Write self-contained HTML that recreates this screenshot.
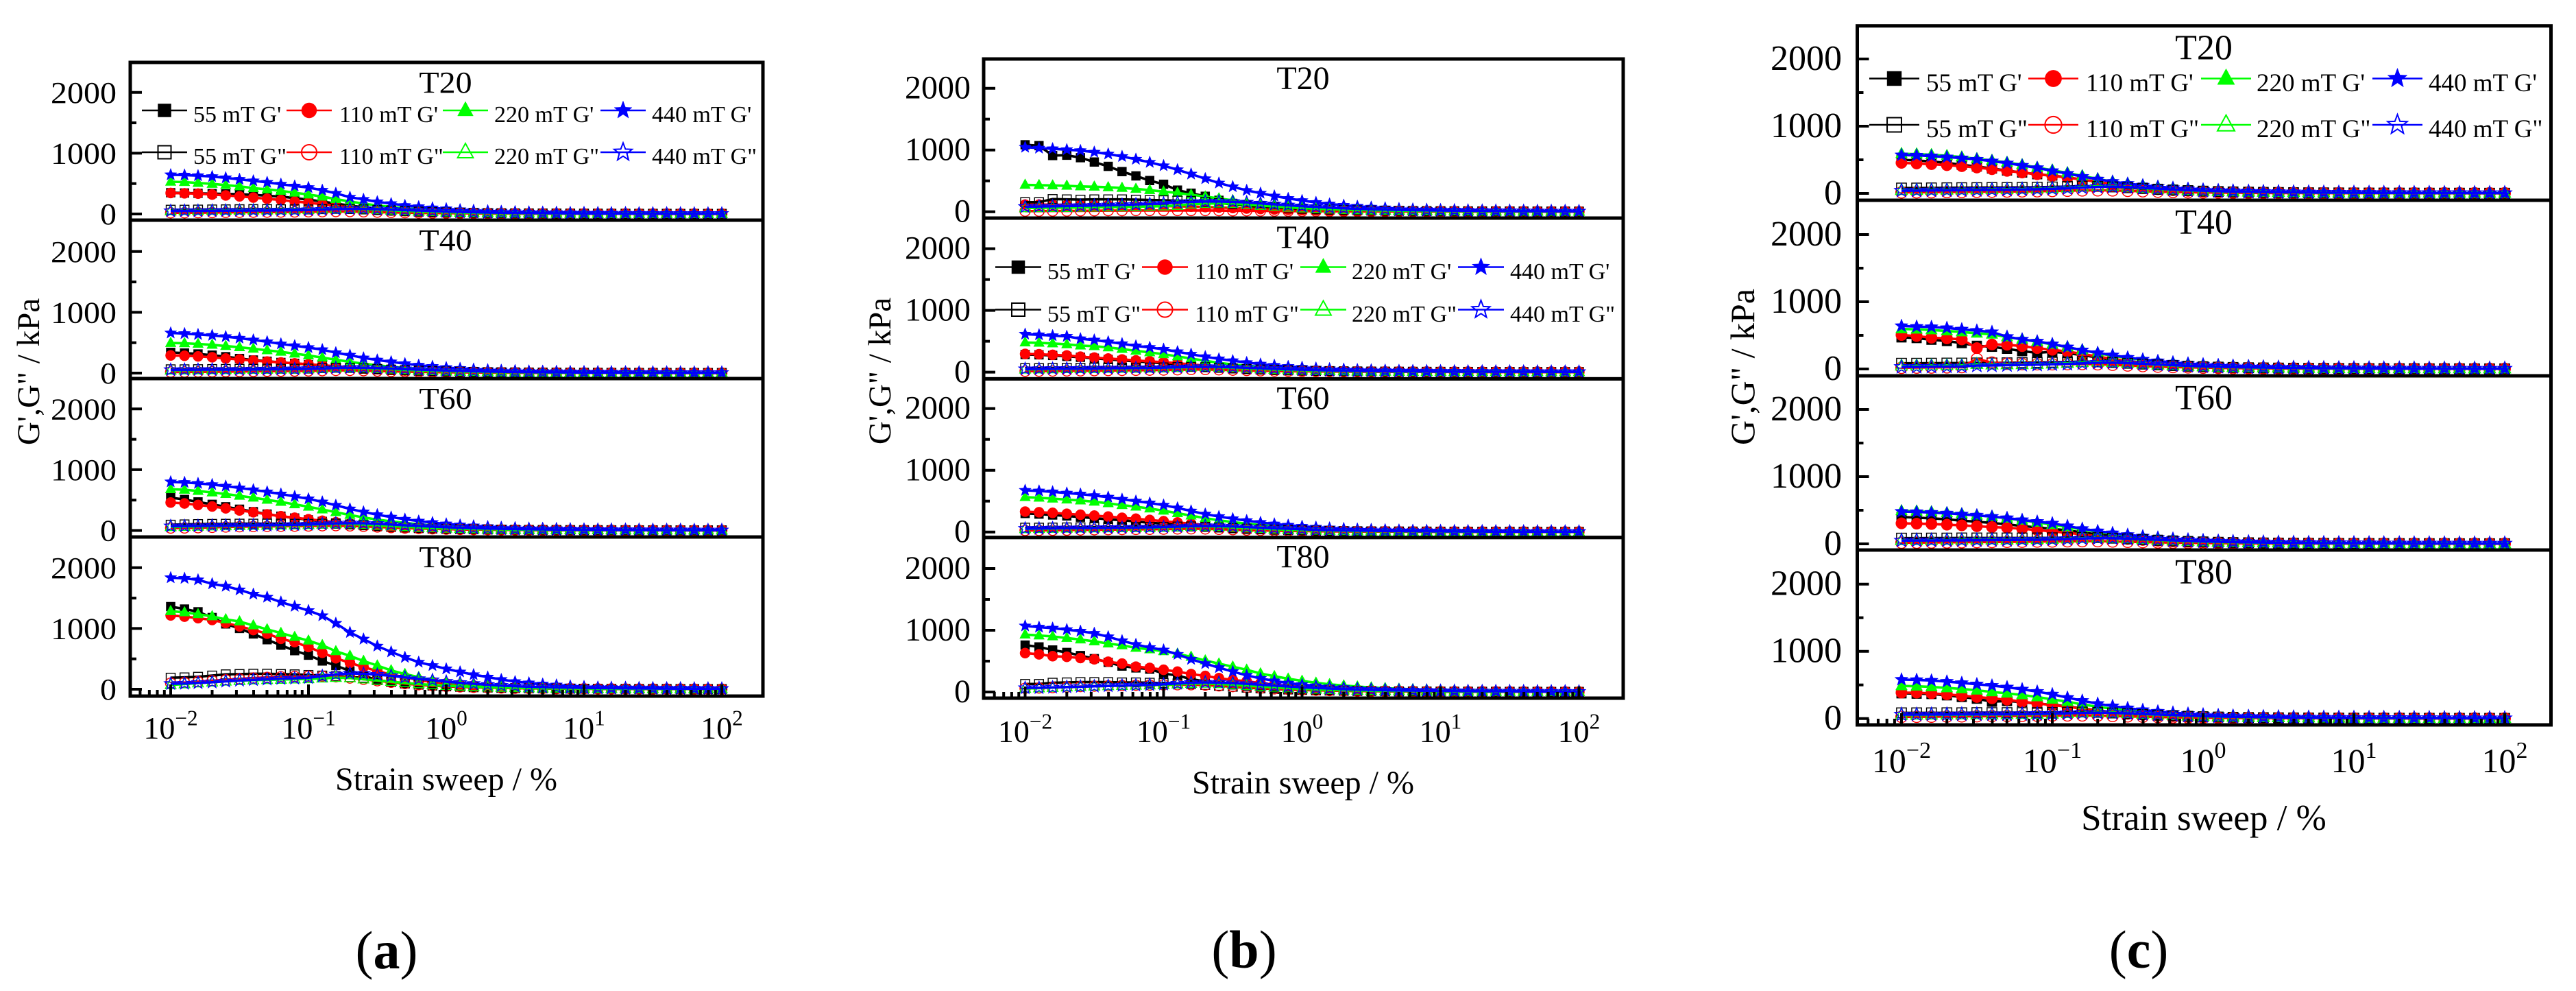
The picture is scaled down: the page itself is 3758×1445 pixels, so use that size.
<!DOCTYPE html>
<html lang="en">
<head>
<meta charset="utf-8">
<title>Strain sweep of G' and G'' at four temperatures</title>
<style>
html,body{margin:0;padding:0;background:#fff;width:3758px;height:1445px;overflow:hidden}
svg{display:block}
text{font-family:"Liberation Serif",serif;fill:#000}
</style>
</head>
<body>
<svg id="chart" xmlns="http://www.w3.org/2000/svg" width="3758" height="1445" viewBox="0 0 3758 1445"></svg>
<script>
const strains=[0.01,0.0126,0.0158,0.02,0.0251,0.0316,0.0398,0.0501,0.0631,0.0794,0.1,0.126,0.158,0.2,0.251,0.316,0.398,0.501,0.631,0.794,1,1.26,1.58,2,2.51,3.16,3.98,5.01,6.31,7.94,10,12.6,15.8,20,25.1,31.6,39.8,50.1,63.1,79.4,100];
const yTickValues=[0,1000,2000];
const yMinorValues=[500,1500];
const xTickExponents=[-2,-1,0,1,2];
const panelTitles=["T20","T40","T60","T80"];
const legendLabels=["55 mT G'","110 mT G'","220 mT G'","440 mT G'",'55 mT G"','110 mT G"','220 mT G"','440 mT G"'];
const yAxisLabel="G',G\" / kPa";
const xAxisLabel="Strain sweep / %";

/* figure a */
const a20_55G1=[350,345,340,335,330,325,315,300,285,262, 235,205,170,140,110,88,70,56,45,37, 30,25,20,17,14,12,10,9,8,7, 6,5,5,4,4,3,3,3,2,2,2];
const a20_110G1=[345,340,335,320,305,290,270,250,230,205, 185,160,135,110,90,72,58,47,38,31, 25,21,17,14,12,10,9,8,7,6, 5,5,4,4,3,3,3,2,2,2,2];
const a20_220G1=[530,525,510,495,475,455,425,405,380,350, 320,285,245,205,170,140,115,95,78,64, 52,44,37,31,26,22,19,16,14,12, 11,10,9,8,7,6,6,5,5,4,4];
const a20_440G1=[645,640,630,615,595,570,545,520,490,460, 435,390,340,275,240,200,170,140,120,100, 85,70,60,52,45,38,33,28,25,22, 20,18,16,14,13,12,11,10,9,8,8];
const a20_55G2=[70,70,72,74,76,78,80,80,78,76, 75,80,85,82,75,65,55,46,38,31, 26,22,18,15,13,11,10,9,8,7, 6,6,5,5,4,4,4,3,3,3,3];
const a20_110G2=[20,20,22,24,26,28,30,30,32,34, 36,38,40,40,36,30,26,22,18,15, 13,11,9,8,7,6,5,5,4,4, 3,3,3,3,2,2,2,2,2,2,2];
const a20_220G2=[50,52,54,56,58,60,62,62,64,66, 70,78,85,85,78,70,60,50,42,35, 29,24,20,17,14,12,11,9,8,7, 7,6,5,5,5,4,4,4,3,3,3];
const a20_440G2=[48,50,50,52,54,55,56,58,60,62, 66,72,80,85,85,80,72,64,56,48, 40,34,28,24,20,17,15,13,11,10, 9,8,7,7,6,6,5,5,4,4,4];

const a40_55G1=[340,330,315,295,270,240,215,195,175,160, 140,120,100,82,66,54,44,36,30,25, 21,18,15,13,11,9,8,7,6,5, 5,4,4,3,3,3,3,2,2,2,2];
const a40_110G1=[290,285,275,260,240,225,205,190,175,160, 145,130,112,94,78,63,52,43,35,29, 24,20,17,14,12,10,9,8,7,6, 5,5,4,4,3,3,3,2,2,2,2];
const a40_220G1=[495,490,480,465,445,425,400,375,350,320, 290,255,220,185,155,128,105,86,71,59, 49,41,35,29,25,21,18,16,14,12, 11,10,9,8,7,6,6,5,5,4,4];
const a40_440G1=[660,650,635,620,600,575,545,515,480,450, 420,385,335,295,250,215,185,155,130,110, 90,77,65,55,47,40,34,30,26,23, 20,18,16,14,13,12,11,10,9,8,8];
const a40_55G2=[62,62,64,66,68,70,70,72,72,72, 74,82,88,86,78,68,58,48,40,33, 27,23,19,16,14,12,10,9,8,7, 6,6,5,5,4,4,4,3,3,3,3];
const a40_110G2=[18,18,20,22,24,26,28,30,32,34, 36,40,44,44,40,34,28,24,20,16, 14,12,10,8,7,6,5,5,4,4, 3,3,3,3,2,2,2,2,2,2,2];
const a40_220G2=[45,47,50,52,54,56,58,60,62,64, 68,76,84,86,80,72,62,52,44,36, 30,25,21,18,15,13,11,10,8,7, 7,6,5,5,5,4,4,4,3,3,3];
const a40_440G2=[52,54,55,56,57,58,60,62,64,66, 70,76,84,88,88,82,74,66,58,50, 42,36,30,25,21,18,15,13,12,10, 9,8,8,7,6,6,5,5,4,4,4];

const a60_55G1=[540,510,470,430,390,350,310,270,235,205, 175,150,125,100,80,64,52,42,34,28, 23,19,16,13,11,9,8,7,6,5, 5,4,4,3,3,3,3,2,2,2,2];
const a60_110G1=[460,445,420,395,365,330,300,265,235,210, 185,160,135,112,92,75,60,49,40,33, 27,22,18,15,13,11,9,8,7,6, 5,5,4,4,3,3,3,3,2,2,2];
const a60_220G1=[680,670,650,625,600,570,540,505,470,430, 390,345,300,255,215,180,150,125,103,85, 70,58,48,40,34,29,25,21,18,16, 14,12,11,10,9,8,7,6,6,5,5];
const a60_440G1=[800,790,775,755,730,700,670,635,600,560, 520,470,415,355,305,260,220,185,155,130, 108,90,76,64,54,46,39,34,30,26, 23,20,18,16,14,13,12,11,10,9,9];
const a60_55G2=[95,100,105,108,110,112,112,112,112,110, 108,112,112,100,88,74,60,50,40,33, 27,23,19,16,14,12,10,9,8,7, 6,6,5,5,4,4,4,3,3,3,3];
const a60_110G2=[40,42,46,52,58,62,66,68,70,72, 74,78,80,76,68,58,48,40,33,27, 22,18,15,13,11,9,8,7,6,5, 5,4,4,3,3,3,3,3,2,2,2];
const a60_220G2=[60,62,66,70,74,78,82,84,86,88, 92,100,108,106,96,84,72,60,50,41, 34,28,24,20,17,14,12,11,9,8, 8,7,6,6,5,5,4,4,4,3,3];
const a60_440G2=[70,72,74,78,80,82,84,86,90,94, 98,106,116,120,118,110,98,86,74,63, 53,45,38,32,27,23,20,17,15,13, 11,10,9,8,8,7,6,6,5,5,5];

const a80_55G1=[1360,1320,1275,1180,1075,1000,910,815,725,635, 560,465,390,300,225,150,120,95,75,60, 48,40,33,28,23,19,16,14,12,10, 9,8,7,6,6,5,5,4,4,4,3];
const a80_110G1=[1215,1195,1170,1140,1090,1035,975,915,830,775, 695,600,510,435,365,300,240,200,150,120, 95,76,62,50,41,34,28,24,20,17, 14,12,11,9,8,7,6,6,5,4,4];
const a80_220G1=[1285,1265,1235,1200,1150,1115,1050,985,925,860, 800,725,625,550,465,390,310,250,200,150, 115,90,72,58,47,38,32,27,23,20, 17,15,13,11,10,9,8,7,6,6,5];
const a80_440G1=[1835,1825,1800,1735,1695,1635,1565,1515,1435,1365, 1295,1210,1085,935,825,710,615,525,445,390, 335,285,240,200,160,125,105,85,70,55, 45,35,30,28,26,24,22,20,18,16,15];
const a80_55G2=[190,195,205,225,245,250,255,255,250,245, 235,225,215,200,190,150,120,95,75,60, 48,40,33,28,23,19,16,14,12,10, 9,8,7,6,6,5,5,4,4,4,3];
const a80_110G2=[100,110,125,140,155,170,185,195,205,210, 215,215,205,185,165,140,115,92,74,60, 48,39,32,26,21,17,14,12,10,9, 8,7,6,5,5,4,4,4,3,3,3];
const a80_220G2=[70,85,100,115,130,140,150,155,160,165, 170,180,190,185,165,145,125,104,86,71, 58,48,40,33,27,23,19,16,14,12, 10,9,8,7,6,6,5,5,4,4,4];
const a80_440G2=[90,95,105,115,130,145,155,165,175,180, 190,215,245,260,255,240,220,195,170,150, 125,105,90,75,60,50,42,36,30,26, 22,19,17,15,13,12,10,9,8,8,7];

/* figure b */
const b20_55G1=[1085,1070,910,915,875,805,735,650,580,505, 445,350,300,250,185,135,100,70,55,45, 36,30,25,20,17,14,12,10,9,8, 7,6,5,5,4,4,3,3,3,2,2];
const b20_110G1=[115,115,115,110,108,105,102,100,98,96, 92,88,82,75,68,60,52,44,37,31, 26,22,18,15,13,11,9,8,7,6, 5,5,4,4,3,3,3,3,2,2,2];
const b20_220G1=[435,430,425,420,410,405,395,385,370,350, 325,305,275,245,215,185,155,130,108,90, 74,62,52,43,36,30,26,22,18,16, 14,12,11,10,9,8,7,6,6,5,5];
const b20_440G1=[1045,1030,1020,1005,990,965,935,895,850,800, 745,680,610,535,465,405,345,300,255,215, 180,150,125,105,88,74,62,52,44,38, 32,28,24,21,18,16,14,12,11,10,9];
const b20_55G2=[155,155,205,200,195,200,200,200,195,190, 185,180,175,160,140,120,100,85,70,58, 48,40,33,27,23,19,16,14,12,10, 9,8,7,6,6,5,5,4,4,4,3];
const b20_110G2=[10,10,12,12,14,16,18,18,20,20, 20,20,20,20,18,16,15,13,12,10, 9,8,7,6,5,5,4,4,3,3, 3,3,2,2,2,2,2,2,1,1,1];
const b20_220G2=[60,62,65,65,70,72,75,75,80,85, 90,100,120,130,135,130,115,100,85,70, 58,48,40,33,28,23,20,17,14,12, 11,9,8,7,7,6,5,5,4,4,4];
const b20_440G2=[80,85,88,92,95,100,105,110,118,125, 135,150,160,165,165,160,150,135,120,105, 90,78,66,56,48,40,34,29,25,22, 19,17,15,13,11,10,9,8,7,7,6];

const b40_55G1=[285,280,270,255,240,225,205,190,175,160, 140,122,100,82,66,54,44,36,30,25, 21,18,15,13,11,9,8,7,6,5, 5,4,4,3,3,3,3,2,2,2,2];
const b40_110G1=[295,290,280,270,250,235,220,205,190,175, 160,145,125,105,86,70,56,46,37,31, 25,21,17,14,12,10,9,8,7,6, 5,5,4,4,3,3,3,2,2,2,2];
const b40_220G1=[480,475,465,450,430,420,400,375,345,320, 290,255,220,185,150,125,105,86,71,59, 49,41,35,29,25,21,18,16,14,12, 11,10,9,8,7,6,6,5,5,4,4];
const b40_440G1=[615,605,590,580,540,520,490,460,425,400, 370,330,290,250,215,185,155,130,110,92, 78,66,56,48,41,35,30,26,23,20, 18,16,14,13,12,11,10,9,8,8,7];
const b40_55G2=[65,65,68,70,70,72,72,72,72,74, 76,82,85,80,70,60,50,42,35,29, 24,20,17,14,12,10,9,8,7,6, 6,5,5,4,4,4,3,3,3,3,3];
const b40_110G2=[15,16,18,20,22,24,26,28,30,32, 34,38,42,42,38,32,27,22,18,15, 13,11,9,8,7,6,5,5,4,4, 3,3,3,3,2,2,2,2,2,2,2];
const b40_220G2=[45,47,50,52,54,56,58,60,62,64, 68,74,82,84,78,70,60,50,42,35, 29,24,20,17,14,12,11,9,8,7, 7,6,5,5,5,4,4,4,3,3,3];
const b40_440G2=[50,52,54,56,58,60,62,64,66,68, 72,78,84,86,84,78,70,62,54,46, 39,33,28,24,20,17,15,13,11,10, 9,8,7,7,6,6,5,5,4,4,4];

const b60_55G1=[300,290,275,260,240,225,205,190,170,150, 135,118,100,84,68,55,45,37,30,25, 21,18,15,13,11,9,8,7,6,5, 5,4,4,3,3,3,3,2,2,2,2];
const b60_110G1=[330,320,310,295,280,265,250,230,215,195, 175,155,135,112,92,74,60,49,40,33, 27,22,18,15,13,11,9,8,7,6, 5,5,4,4,3,3,3,3,2,2,2];
const b60_220G1=[565,555,540,525,510,490,465,435,410,380, 345,305,265,225,190,160,135,112,93,77, 64,53,45,38,32,27,23,20,17,15, 13,11,10,9,8,7,7,6,5,5,5];
const b60_440G1=[675,665,650,630,615,590,565,530,500,470, 435,390,340,290,250,215,185,155,130,110, 92,78,66,56,48,41,35,30,26,23, 20,18,16,14,13,12,11,10,9,8,8];
const b60_55G2=[70,70,72,74,76,78,80,80,82,82, 84,88,90,84,74,64,54,45,38,31, 26,22,18,15,13,11,10,9,8,7, 6,6,5,5,4,4,4,3,3,3,3];
const b60_110G2=[25,26,28,30,33,36,38,40,42,44, 46,50,52,50,44,38,31,26,21,18, 15,12,10,9,7,6,6,5,4,4, 3,3,3,3,2,2,2,2,2,2,2];
const b60_220G2=[50,52,55,58,60,62,64,66,68,70, 74,80,88,90,84,74,64,54,45,37, 31,26,22,18,15,13,11,10,9,8, 7,6,6,5,5,4,4,4,3,3,3];
const b60_440G2=[55,57,60,62,64,66,68,70,72,75, 80,86,94,98,96,90,80,70,60,52, 44,37,31,26,22,19,16,14,12,11, 10,9,8,7,6,6,5,5,5,4,4];

const b80_55G1=[760,730,680,640,590,540,480,420,390,370, 300,265,210,170,140,115,95,78,64,52, 43,36,30,25,21,18,15,13,11,9, 8,7,6,6,5,5,4,4,4,3,3];
const b80_110G1=[630,610,580,570,550,530,490,460,410,390, 360,330,290,260,225,195,175,145,120,100, 82,66,54,44,36,30,25,21,18,15, 13,11,10,9,8,7,6,6,5,5,4];
const b80_220G1=[930,915,900,875,850,820,785,755,715,690, 660,620,570,510,460,410,360,300,255,215, 180,150,125,105,88,73,62,52,44,38, 32,28,24,21,18,16,14,13,12,11,10];
const b80_440G1=[1070,1050,1035,1010,985,950,895,830,770,720, 680,610,530,460,395,330,270,220,180,145, 120,100,85,72,60,50,42,36,31,27, 24,21,18,16,14,13,12,11,10,9,9];
const b80_55G2=[130,130,150,155,160,160,160,155,155,150, 145,140,130,115,100,85,70,58,48,40, 33,27,23,19,16,14,12,10,9,8, 7,6,6,5,5,4,4,4,3,3,3];
const b80_110G2=[60,65,72,80,88,95,100,105,110,112, 115,118,118,112,100,88,74,62,51,42, 34,28,23,19,16,13,11,10,8,7, 6,6,5,5,4,4,3,3,3,3,2];
const b80_220G2=[55,62,70,78,85,92,98,102,106,110, 115,125,135,138,130,118,102,88,74,61, 50,42,35,29,24,20,17,15,13,11, 10,9,8,7,6,6,5,5,4,4,4];
const b80_440G2=[65,68,74,80,86,92,98,104,110,116, 125,138,150,155,152,145,132,118,103,89, 76,65,55,47,40,34,29,25,22,19, 17,15,13,12,11,10,9,8,7,7,6];

/* figure c */
const c20_55G1=[500,490,475,455,425,400,370,340,310,285, 265,240,205,170,135,105,85,68,55,45, 37,30,25,21,18,15,13,11,9,8, 7,6,6,5,5,4,4,3,3,3,3];
const c20_110G1=[455,445,435,420,405,385,360,335,310,285, 260,235,205,170,135,105,80,62,48,38, 30,25,20,17,14,12,10,9,8,7, 6,5,5,4,4,3,3,3,2,2,2];
const c20_220G1=[590,585,575,560,540,515,490,460,425,385, 345,305,260,215,175,145,120,98,80,65, 54,45,38,32,27,23,20,17,15,13, 11,10,9,8,7,6,6,5,5,4,4];
const c20_440G1=[570,565,555,540,525,505,480,450,415,380, 335,295,250,210,175,145,120,100,83,69, 57,48,41,35,30,26,22,19,17,15, 13,12,10,9,8,8,7,6,6,5,5];
const c20_55G2=[80,80,82,84,85,86,88,88,90,92, 96,102,108,104,96,84,72,60,50,41, 34,28,23,19,16,14,12,10,9,8, 7,6,6,5,5,4,4,4,3,3,3];
const c20_110G2=[15,16,18,20,22,24,26,28,30,32, 36,40,44,46,44,38,32,26,21,17, 14,12,10,8,7,6,5,5,4,4, 3,3,3,3,2,2,2,2,2,2,2];
const c20_220G2=[45,47,50,52,54,56,58,60,64,68, 74,84,98,108,104,92,78,65,54,44, 36,30,25,21,18,15,13,11,9,8, 7,7,6,5,5,4,4,4,3,3,3];
const c20_440G2=[40,42,44,46,48,50,52,54,58,62, 68,76,86,96,100,94,82,70,58,48, 40,33,28,24,20,17,15,13,11,10, 9,8,7,7,6,6,5,5,4,4,4];

const c40_55G1=[470,460,435,415,385,345,330,300,265,240, 255,235,205,170,135,105,84,68,55,45, 37,30,25,21,18,15,13,11,9,8, 7,6,6,5,5,4,4,3,3,3,3];
const c40_110G1=[505,490,465,455,440,310,365,360,340,310, 285,260,225,185,150,118,92,72,56,44, 35,29,24,20,17,14,12,10,9,8, 7,6,5,5,4,4,3,3,3,3,2];
const c40_220G1=[595,590,580,565,550,530,515,475,440,405, 365,325,280,235,195,162,135,112,93,77, 64,53,45,38,32,27,23,20,17,15, 13,11,10,9,8,7,7,6,5,5,5];
const c40_440G1=[640,630,625,610,590,570,550,480,440,410, 370,325,280,240,205,170,142,118,98,82, 69,58,49,42,36,31,27,23,20,18, 16,14,12,11,10,9,8,7,7,6,6];
const c40_55G2=[85,85,86,88,88,90,90,92,94,96, 100,104,110,106,96,84,72,60,50,41, 34,28,23,19,16,14,12,10,9,8, 7,6,6,5,5,4,4,4,3,3,3];
const c40_110G2=[18,20,22,24,28,150,95,78,72,70, 70,72,74,70,62,52,43,35,29,24, 19,16,13,11,9,8,7,6,5,5, 4,4,3,3,3,3,2,2,2,2,2];
const c40_220G2=[45,47,50,52,54,70,62,64,66,70, 76,86,98,104,98,88,75,62,52,43, 35,29,24,20,17,15,13,11,9,8, 7,7,6,5,5,4,4,4,3,3,3];
const c40_440G2=[30,32,34,36,38,50,52,56,60,64, 70,76,84,92,94,88,78,66,56,47, 39,33,28,23,20,17,15,13,11,10, 9,8,7,7,6,6,5,5,4,4,4];

const c60_55G1=[400,390,380,365,345,330,310,290,265,245, 225,200,170,140,115,92,74,60,49,40, 33,27,23,19,16,14,12,10,9,8, 7,6,5,5,4,4,4,3,3,3,3];
const c60_110G1=[305,300,295,285,275,262,250,240,225,205, 185,165,140,115,92,73,58,46,37,30, 25,20,17,14,12,10,9,8,7,6, 5,5,4,4,3,3,3,3,2,2,2];
const c60_220G1=[490,485,475,460,445,425,405,380,350,320, 285,250,215,180,150,125,104,86,71,59, 49,41,35,29,25,21,18,16,14,12, 11,10,9,8,7,6,6,5,5,4,4];
const c60_440G1=[480,475,465,455,440,425,405,385,355,330, 305,265,225,190,160,135,112,93,78,65, 55,46,39,34,29,25,22,19,17,15, 13,12,10,9,8,8,7,6,6,5,5];
const c60_55G2=[85,85,86,86,88,88,88,88,88,88, 90,92,96,92,84,74,62,52,43,35, 29,24,20,17,14,12,10,9,8,7, 6,6,5,5,4,4,4,3,3,3,3];
const c60_110G2=[18,18,20,22,24,26,28,30,32,34, 36,38,40,40,36,31,26,22,18,15, 13,11,9,8,7,6,5,5,4,4, 3,3,3,3,2,2,2,2,2,2,2];
const c60_220G2=[50,52,54,56,58,60,62,62,64,66, 70,76,84,88,84,76,66,56,47,39, 32,27,23,19,16,14,12,10,9,8, 7,7,6,5,5,4,4,4,3,3,3];
const c60_440G2=[48,50,50,52,52,54,56,58,60,62, 66,72,80,84,84,78,70,60,52,44, 37,31,26,22,19,16,14,12,11,10, 9,8,7,7,6,6,5,5,4,4,4];

const c80_55G1=[375,370,365,345,320,295,250,260,245,220, 205,180,150,120,95,76,61,49,40,33, 27,22,18,15,13,11,9,8,7,6, 5,5,4,4,3,3,3,3,2,2,2];
const c80_110G1=[385,385,375,360,340,320,300,280,250,225, 200,175,145,115,90,70,55,44,35,28, 23,19,16,13,11,9,8,7,6,5, 5,4,4,3,3,3,3,2,2,2,2];
const c80_220G1=[485,480,470,455,440,420,395,375,350,320, 285,250,210,175,145,120,100,82,68,56, 47,39,33,28,24,20,17,15,13,11, 10,9,8,7,6,6,5,5,4,4,4];
const c80_440G1=[580,575,565,550,530,510,490,465,435,400, 360,310,265,220,185,155,128,105,88,73, 61,51,43,37,31,27,23,20,17,15, 13,12,10,9,8,8,7,6,6,5,5];
const c80_55G2=[85,85,85,86,86,88,88,88,88,88, 90,94,96,92,82,72,60,50,41,34, 28,23,19,16,14,12,10,9,8,7, 6,6,5,5,4,4,4,3,3,3,3];
const c80_110G2=[25,26,28,30,32,34,36,38,40,42, 44,46,46,44,38,32,27,22,18,15, 13,11,9,8,7,6,5,5,4,4, 3,3,3,3,2,2,2,2,2,2,2];
const c80_220G2=[50,52,54,56,56,58,58,60,62,64, 68,76,86,90,84,76,65,55,46,38, 32,27,23,19,16,14,12,10,9,8, 7,7,6,5,5,4,4,4,3,3,3];
const c80_440G2=[58,58,60,60,62,62,64,64,66,68, 72,78,84,86,84,78,68,60,51,43, 36,31,26,22,19,16,14,12,11,10, 9,8,7,7,6,6,5,5,4,4,4];

const aSeries=[[a20_55G1,a20_110G1,a20_220G1,a20_440G1,a20_55G2,a20_110G2,a20_220G2,a20_440G2],[a40_55G1,a40_110G1,a40_220G1,a40_440G1,a40_55G2,a40_110G2,a40_220G2,a40_440G2],[a60_55G1,a60_110G1,a60_220G1,a60_440G1,a60_55G2,a60_110G2,a60_220G2,a60_440G2],[a80_55G1,a80_110G1,a80_220G1,a80_440G1,a80_55G2,a80_110G2,a80_220G2,a80_440G2]];
const bSeries=[[b20_55G1,b20_110G1,b20_220G1,b20_440G1,b20_55G2,b20_110G2,b20_220G2,b20_440G2],[b40_55G1,b40_110G1,b40_220G1,b40_440G1,b40_55G2,b40_110G2,b40_220G2,b40_440G2],[b60_55G1,b60_110G1,b60_220G1,b60_440G1,b60_55G2,b60_110G2,b60_220G2,b60_440G2],[b80_55G1,b80_110G1,b80_220G1,b80_440G1,b80_55G2,b80_110G2,b80_220G2,b80_440G2]];
const cSeries=[[c20_55G1,c20_110G1,c20_220G1,c20_440G1,c20_55G2,c20_110G2,c20_220G2,c20_440G2],[c40_55G1,c40_110G1,c40_220G1,c40_440G1,c40_55G2,c40_110G2,c40_220G2,c40_440G2],[c60_55G1,c60_110G1,c60_220G1,c60_440G1,c60_55G2,c60_110G2,c60_220G2,c60_440G2],[c80_55G1,c80_110G1,c80_220G1,c80_440G1,c80_55G2,c80_110G2,c80_220G2,c80_440G2]];

const colors=["#000","#f00","#0f0","#00f"];
const shapes=["square","circle","triangle","star"];
const layouts=[
 {id:"a",series:aSeries,left:190,right:1113,edges:[91,321,552,783,1015],zeros:[312,544,773.5,1005],yPx:0.0886,x0:249,decade:201,
  fs:48,fsy:0.92,tickRight:170,tickDrop:15,titleX:650,titleDrop:44,ms:1,
  xLabBase:1077,xLabFs:46,xTitleX:651,xTitleBase:1152,xTitleFs:48,yTitleBase:57,yTitleY:542,yTitleFs:47,
  sub:"a",subX:564,subBase:1412,legPanel:0,legLine:[207,418,646,876],legText:[282,495,721,951],legY:[161,222],legBase:[178,239],legFs:34,legLen:66,legM:1},
 {id:"b",series:bSeries,left:1435,right:2368,edges:[86,318,552.4,783.7,1018],zeros:[308.7,542.6,775.7,1009],yPx:0.090,x0:1495.5,decade:202,
  fs:48,fsy:1,tickRight:1416,tickDrop:15,titleX:1901,titleDrop:44,ms:1,
  xLabBase:1082,xLabFs:46,xTitleX:1901,xTitleBase:1157,xTitleFs:48,yTitleBase:1299,yTitleY:541,yTitleFs:47,
  sub:"b",subX:1815,subBase:1411,legPanel:1,legLine:[1452,1666,1897,2127],legText:[1528,1743,1972,2203],legY:[389.5,451.5],legBase:[407,469],legFs:34,legLen:67,legM:1},
 {id:"c",series:cSeries,left:2709.5,right:3721.5,edges:[37.7,292,548,802,1057],zeros:[282,538,793,1047.7],yPx:0.098,x0:2774,decade:220,
  fs:52,fsy:1,tickRight:2687,tickDrop:16,titleX:3215,titleDrop:49,ms:1.1,
  xLabBase:1126,xLabFs:50,xTitleX:3215,xTitleBase:1210,xTitleFs:53,yTitleBase:2559,yTitleY:535,yTitleFs:50,
  sub:"c",subX:3120,subBase:1411,legPanel:0,legLine:[2727,2959,3211,3461],legText:[2810,3043,3292,3543],legY:[114.5,182],legBase:[133,200],legFs:37,legLen:73,legM:1.1}
];

const NS="http://www.w3.org/2000/svg";
const svg=document.getElementById("chart");
function make(tag,parent,attrs){
  const e=document.createElementNS(NS,tag);
  for(const k in attrs)e.setAttribute(k,attrs[k]);
  parent.appendChild(e);
  return e;
}
function starPoints(cx,cy,R){
  const pts=[];
  for(let i=0;i<10;i++){
    const r=i%2?R*0.42:R,t=-Math.PI/2+i*Math.PI/5;
    pts.push((cx+r*Math.cos(t)).toFixed(1)+","+(cy+r*Math.sin(t)).toFixed(1));
  }
  return pts.join(" ");
}
function drawMarker(parent,shape,cx,cy,size,color,hollow,sw){
  const style={fill:hollow?"none":color,stroke:color,"stroke-width":hollow?sw:0.5};
  let m;
  if(shape==="square"){
    m=make("rect",parent,Object.assign({x:cx-size/2,y:cy-size/2,width:size,height:size},style));
  }else if(shape==="circle"){
    m=make("circle",parent,Object.assign({cx:cx,cy:cy,r:size*0.58},style));
  }else if(shape==="triangle"){
    const h=size*1.1,w=size*1.2;
    m=make("polygon",parent,Object.assign({points:cx+","+(cy-h*0.62)+" "+(cx+w/2)+","+(cy+h*0.38)+" "+(cx-w/2)+","+(cy+h*0.38)},style));
  }else{
    m=make("polygon",parent,Object.assign({points:starPoints(cx,cy,size*0.72)},style));
  }
  return m;
}

layouts.forEach(function(f){
  const fig=make("g",svg,{});
  
  
  const xAt=function(v){return f.x0+(Math.log10(v)+2)*f.decade;};
  const bottom=f.edges[4];

  panelTitles.forEach(function(title,p){
    const yAt=function(v){return f.zeros[p]-v*f.yPx;};
    const top=f.edges[p];
    const panel=make("g",fig,{});
    
    

    /* series */
    f.series[p].forEach(function(values,s){
      const c=s%4,hollow=s>=4,color=colors[c];
      const g=make("g",panel,{});
      
      
      const d=values.map(function(v,i){return (i?"L":"M")+xAt(strains[i]).toFixed(1)+" "+yAt(v).toFixed(1);}).join("");
      const line=make("path",g,{d:d,fill:"none",stroke:color,"stroke-width":3.6,"stroke-linejoin":"round"});
      
      
      values.forEach(function(v,i){
        const m=drawMarker(g,shapes[c],xAt(strains[i]),yAt(v),13*f.ms,color,hollow,1.4);
        
        
      });
    });

    /* frame */
    const frame=make("rect",panel,{x:f.left,y:top,width:f.right-f.left,height:f.edges[p+1]-top,fill:"none",stroke:"#000","stroke-width":5});
    
    

    /* y ticks */
    yTickValues.forEach(function(v){
      const t=make("line",panel,{x1:f.left,x2:f.left+17,y1:yAt(v),y2:yAt(v),stroke:"#000","stroke-width":4});
      
      
      const lab=make("text",panel,{"text-anchor":"end","font-size":f.fs,transform:"translate("+f.tickRight+","+(yAt(v)+f.tickDrop)+") scale(1,"+f.fsy+")"});
      lab.textContent=String(v);
      
      
    });
    yMinorValues.forEach(function(v){
      const t=make("line",panel,{x1:f.left,x2:f.left+9,y1:yAt(v),y2:yAt(v),stroke:"#000","stroke-width":4});
      
      
    });

    /* title */
    const tt=make("text",panel,{"text-anchor":"middle","font-size":f.fs,transform:"translate("+f.titleX+","+(top+f.titleDrop)+") scale(1,"+f.fsy+")"});
    tt.textContent=title;
    
    
  });

  /* x axis ticks */
  const xAxis=make("g",fig,{});
  
  
  xTickExponents.forEach(function(e){
    const px=xAt(Math.pow(10,e));
    const t=make("line",xAxis,{x1:px,x2:px,y1:bottom,y2:bottom-17,stroke:"#000","stroke-width":4});
    
    
    const lab=make("text",xAxis,{x:px,y:f.xLabBase,"text-anchor":"middle","font-size":f.xLabFs});
    
    
    const base=make("tspan",lab,{});
    base.textContent="10";
    const sup=make("tspan",lab,{dy:-0.42*f.xLabFs,"font-size":f.xLabFs*0.68});
    sup.textContent=String(e).replace("-","\u2212");
  });
  for(let e=-3;e<2;e++){
    for(let k=2;k<10;k++){
      const v=k*Math.pow(10,e),px=xAt(v);
      if(px<f.left+8)continue;
      const t=make("line",xAxis,{x1:px,x2:px,y1:bottom,y2:bottom-9,stroke:"#000","stroke-width":4});
      
      
    }
  }

  /* axis titles */
  const xt=make("text",fig,{x:f.xTitleX,y:f.xTitleBase,"text-anchor":"middle","font-size":f.xTitleFs});
  xt.textContent=xAxisLabel;
  
  
  const yt=make("text",fig,{"text-anchor":"middle","font-size":f.yTitleFs,transform:"translate("+f.yTitleBase+","+f.yTitleY+") rotate(-90)"});
  yt.textContent=yAxisLabel;
  
  

  /* legend */
  const legend=make("g",fig,{});
  
  
  legendLabels.forEach(function(label,s){
    const c=s%4,row=s>=4?1:0,hollow=s>=4,color=colors[c];
    const entry=make("g",legend,{});
    
    
    const lx=f.legLine[c],ly=f.legY[row];
    make("line",entry,{x1:lx,x2:lx+f.legLen,y1:ly,y2:ly,stroke:color,"stroke-width":2.4});
    drawMarker(entry,shapes[c],lx+f.legLen/2,ly,19*f.legM,color,hollow,2);
    const tx=make("text",entry,{x:f.legText[c],y:f.legBase[row],"font-size":f.legFs});
    tx.textContent=label;
  });

  /* sub-figure label */
  const sub=make("text",fig,{x:f.subX,y:f.subBase,"text-anchor":"middle","font-size":78});
  
  
  const open=make("tspan",sub,{});
  open.textContent="(";
  const letter=make("tspan",sub,{"font-weight":"bold"});
  letter.textContent=f.sub;
  const close=make("tspan",sub,{});
  close.textContent=")";
});
</script>
</body>
</html>
